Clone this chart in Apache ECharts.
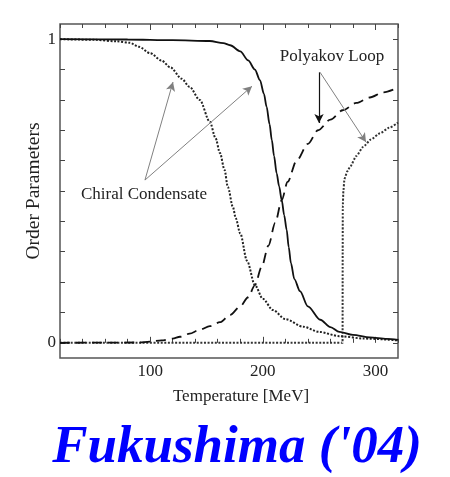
<!DOCTYPE html>
<html>
<head>
<meta charset="utf-8">
<script src="https://cdn.jsdelivr.net/npm/echarts@6/dist/echarts.min.js"></script>
<style>html,body{margin:0;padding:0;background:#fff;}#c{width:450px;height:477px;}</style>
</head>
<body>
<div id="c"></div>
<script>
// Solid: chiral condensate (model A)
var chiralSolidT = [20, 80, 120, 153, 165, 171, 180, 187, 193, 197.5, 201, 203.4, 206, 208, 210, 212.3, 214.5, 216.8, 219, 221.2, 223, 225, 228, 233, 240, 251, 260, 268, 280, 295, 310, 320];
var chiralSolidV = [1.0, 0.999, 0.997, 0.994, 0.987, 0.98, 0.96, 0.93, 0.9, 0.865, 0.82, 0.777, 0.72, 0.668, 0.615, 0.558, 0.515, 0.47, 0.42, 0.372, 0.315, 0.262, 0.21, 0.17, 0.12, 0.076, 0.052, 0.036, 0.026, 0.018, 0.013, 0.01];
// Dotted: chiral condensate (model B)
var chiralDotT = [20, 50, 70, 82, 90, 100, 110, 118, 128, 135, 144, 153, 158, 162, 166, 169, 173.5, 176, 180, 186, 193, 200, 209, 220, 236, 250, 268, 290, 320];
var chiralDotV = [1.0, 0.998, 0.993, 0.988, 0.975, 0.954, 0.93, 0.907, 0.87, 0.843, 0.8, 0.728, 0.675, 0.625, 0.57, 0.513, 0.447, 0.41, 0.36, 0.27, 0.19, 0.145, 0.108, 0.078, 0.053, 0.036, 0.022, 0.014, 0.008];
// Dashed: Polyakov loop (model A)
var polyDashT = [20, 90, 100, 110, 120, 126.5, 135, 144, 153, 162, 171, 180, 187, 193, 199, 205, 211, 216.8, 222, 230, 240, 249, 260, 271, 283, 295, 307, 320];
var polyDashV = [0, 0.001, 0.004, 0.008, 0.014, 0.02, 0.03, 0.043, 0.055, 0.068, 0.092, 0.12, 0.15, 0.19, 0.25, 0.32, 0.395, 0.47, 0.53, 0.6, 0.655, 0.70, 0.735, 0.766, 0.79, 0.808, 0.825, 0.84];
// Dotted: Polyakov loop (model B)
var polyDotT = [20, 270.8, 270.9, 271.0, 271.5, 272.5, 275, 277.5, 283, 289, 296, 304, 312, 320];
var polyDotV = [0, 0, 0.3, 0.45, 0.5, 0.54, 0.565, 0.58, 0.615, 0.645, 0.67, 0.69, 0.708, 0.725];

var xTickLabels = [100, 200, 300];
var xMinorTicks = [20, 40, 60, 80, 120, 140, 160, 180, 220, 240, 260, 280, 320];
var yTickLabels = [0, 1];
var yTicks = [0, 0.1, 0.2, 0.3, 0.4, 0.5, 0.6, 0.7, 0.8, 0.9, 1];

function pairs(t, v) { return t.map(function (x, i) { return [x, v[i]]; }); }

var FONT = '"Liberation Serif", "DejaVu Serif", serif';
var chart = echarts.init(document.getElementById('c'), null, { renderer: 'canvas' });

var arrowGray = '#808080';
var option = {
  animation: false,
  textStyle: { fontFamily: FONT },
  grid: { left: 60, right: 52, top: 24, bottom: 119, show: true, borderColor: '#555', borderWidth: 1.5, backgroundColor: 'transparent' },
  xAxis: [
    { type: 'value', min: 20, max: 320, position: 'bottom',
      axisLine: { show: false }, splitLine: { show: false },
      axisTick: { inside: true, length: 6, customValues: xTickLabels, lineStyle: { color: '#444' } },
      axisLabel: { customValues: xTickLabels, margin: 5, fontSize: 17, color: '#222', fontFamily: FONT },
      name: 'Temperature [MeV]', nameLocation: 'middle', nameGap: 30, nameMoveOverlap: false,
      nameTextStyle: { fontSize: 17, color: '#222', fontFamily: FONT, padding: [0, 0, 0, 24] } },
    { type: 'value', min: 20, max: 320, position: 'bottom',
      axisLine: { show: false }, splitLine: { show: false }, axisLabel: { show: false },
      axisTick: { inside: true, length: 4, customValues: xMinorTicks, lineStyle: { color: '#444' } } },
    { type: 'value', min: 20, max: 320, position: 'top',
      axisLine: { show: false }, splitLine: { show: false }, axisLabel: { show: false },
      axisTick: { inside: true, length: 6, customValues: xTickLabels, lineStyle: { color: '#444' } } },
    { type: 'value', min: 20, max: 320, position: 'top',
      axisLine: { show: false }, splitLine: { show: false }, axisLabel: { show: false },
      axisTick: { inside: true, length: 4, customValues: xMinorTicks, lineStyle: { color: '#444' } } }
  ],
  yAxis: [
    { type: 'value', min: -0.05, max: 1.05, position: 'left',
      axisLine: { show: false }, splitLine: { show: false },
      axisTick: { inside: true, length: 5, customValues: yTicks, lineStyle: { color: '#444' } },
      axisLabel: { customValues: yTickLabels, margin: 4, fontSize: 17, color: '#222', fontFamily: FONT },
      name: 'Order Parameters', nameLocation: 'middle', nameGap: 16, nameRotate: 90, nameMoveOverlap: false,
      nameTextStyle: { fontSize: 19.5, color: '#222', fontFamily: FONT } },
    { type: 'value', min: -0.05, max: 1.05, position: 'right',
      axisLine: { show: false }, splitLine: { show: false }, axisLabel: { show: false },
      axisTick: { inside: true, length: 5, customValues: yTicks, lineStyle: { color: '#444' } } }
  ],
  series: [
    { type: 'line', name: 'Polyakov B', data: pairs(polyDotT, polyDotV), showSymbol: false, smooth: 0.2, smoothMonotone: 'x',
      lineStyle: { color: '#333', width: 2, type: [2, 1.6] },
      markLine: { silent: true, symbol: ['none', 'arrow'], symbolSize: [7, 9], label: { show: false },
        data: [
          [{ coord: [249.9, 0.891], lineStyle: { color: '#111', width: 1.2, type: 'solid' } }, { coord: [249.9, 0.724] }],
          [{ coord: [250.8, 0.891], lineStyle: { color: arrowGray, width: 1, type: 'solid' } }, { coord: [291.6, 0.661] }]
        ] } },
    { type: 'line', name: 'Polyakov A', data: pairs(polyDashT, polyDashV), showSymbol: false, smooth: 0.3, smoothMonotone: 'x',
      lineStyle: { color: '#111', width: 1.8, type: [10, 6] } },
    { type: 'line', name: 'Chiral B', data: pairs(chiralDotT, chiralDotV), showSymbol: false, smooth: 0.3, smoothMonotone: 'x',
      lineStyle: { color: '#222', width: 2, type: [2, 1.6] },
      markLine: { silent: true, symbol: ['none', 'arrow'], symbolSize: [7, 9], label: { show: false },
        lineStyle: { color: arrowGray, width: 1, type: 'solid' },
        data: [
          [{ coord: [95.4, 0.536] }, { coord: [120.3, 0.859] }],
          [{ coord: [95.4, 0.536] }, { coord: [190.4, 0.845] }]
        ] } },
    { type: 'line', name: 'Chiral A', data: pairs(chiralSolidT, chiralSolidV), showSymbol: false, smooth: 0.3, smoothMonotone: 'x',
      lineStyle: { color: '#111', width: 1.8, type: 'solid' } }
  ],
  graphic: [
    { type: 'text', x: 144, y: 195, style: { text: 'Chiral Condensate', font: '17px ' + FONT, fill: '#222', textAlign: 'center', textVerticalAlign: 'middle' } },
    { type: 'text', x: 332, y: 57, style: { text: 'Polyakov Loop', font: '17px ' + FONT, fill: '#222', textAlign: 'center', textVerticalAlign: 'middle' } },
    { type: 'text', x: 237, y: 448, style: { text: "Fukushima ('04)", font: 'italic bold 53px ' + FONT, fill: '#0000ff', textAlign: 'center', textVerticalAlign: 'middle' } }
  ]
};
chart.setOption(option);
</script>
</body>
</html>
